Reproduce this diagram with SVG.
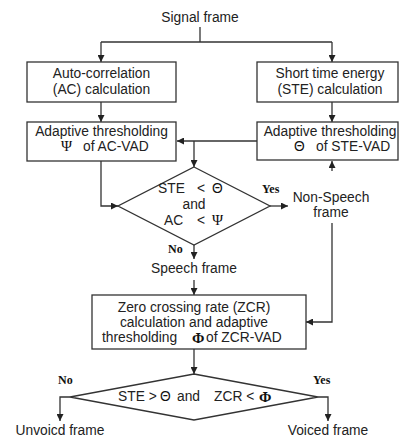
<svg xmlns="http://www.w3.org/2000/svg" width="400" height="439" viewBox="0 0 400 439">
<defs>
<marker id="ah" viewBox="0 0 10 10" refX="10" refY="5" markerWidth="7" markerHeight="7" orient="auto" markerUnits="userSpaceOnUse">
<path d="M0,0 L10,5 L0,10 z" fill="#222"/>
</marker>
<style>
.box{fill:#fff;stroke:#333;stroke-width:1.3}
.ln{fill:none;stroke:#333;stroke-width:1.3}
.t{font-family:"Liberation Sans",Arial,sans-serif;font-size:13.8px;fill:#222;text-anchor:middle}
.tl{font-family:"Liberation Sans",Arial,sans-serif;font-size:13.8px;fill:#222}
.b{font-family:"Liberation Serif","Times New Roman",serif;font-size:12px;font-weight:bold;fill:#111}
.g{font-family:"Liberation Serif","Times New Roman",serif;font-size:15px;fill:#111}
.gs{font-family:"Liberation Sans",Arial,sans-serif;font-size:13.8px;fill:#111}
</style>
</defs>
<rect width="400" height="439" fill="#fff"/>

<g id="connectors">
<polyline class="ln" points="200,27 200,42"/>
<polyline class="ln" points="101,42 332,42"/>
<line class="ln" x1="101" y1="42" x2="101" y2="62" marker-end="url(#ah)"/>
<line class="ln" x1="332" y1="42" x2="332" y2="62" marker-end="url(#ah)"/>
<line class="ln" x1="101" y1="102" x2="101" y2="122" marker-end="url(#ah)"/>
<line class="ln" x1="332" y1="102" x2="332" y2="122" marker-end="url(#ah)"/>
<line class="ln" x1="257" y1="141" x2="177" y2="141" marker-end="url(#ah)"/>
<line class="ln" x1="194" y1="141" x2="194" y2="167" marker-end="url(#ah)"/>
<polyline class="ln" points="101,161 101,206 118,206" marker-end="url(#ah)"/>
<line class="ln" x1="270" y1="206" x2="288" y2="206" marker-end="url(#ah)"/>
<line class="ln" x1="332" y1="171" x2="332" y2="161" marker-end="url(#ah)"/>
<polyline class="ln" points="332,223 332,322 306,322" marker-end="url(#ah)"/>
<line class="ln" x1="194" y1="245" x2="194" y2="259" marker-end="url(#ah)"/>
<line class="ln" x1="194" y1="280" x2="194" y2="295" marker-end="url(#ah)"/>
<line class="ln" x1="194" y1="349" x2="194" y2="374" marker-end="url(#ah)"/>
<polyline class="ln" points="70,397 60,397 60,421" marker-end="url(#ah)"/>
<polyline class="ln" points="318,397 328,397 328,421" marker-end="url(#ah)"/>
</g>

<g id="signal-frame"><text class="t" x="200" y="22">Signal frame</text></g>

<g id="ac-calc">
<rect class="box" x="27" y="62" width="149" height="40"/>
<text class="t" x="101.5" y="78">Auto-correlation</text>
<text class="t" x="101.5" y="94">(AC) calculation</text>
</g>

<g id="ste-calc">
<rect class="box" x="257" y="62" width="141" height="40"/>
<text class="t" x="330" y="78">Short time energy</text>
<text class="t" x="330" y="94">(STE) calculation</text>
</g>

<g id="ac-thresh">
<rect class="box" x="27" y="122" width="149" height="39"/>
<text class="t" x="101.5" y="136">Adaptive thresholding</text>
<text class="g" x="61" y="151">Ψ</text>
<text class="tl" x="83" y="151">of AC-VAD</text>
</g>

<g id="ste-thresh">
<rect class="box" x="257" y="122" width="141" height="38"/>
<text class="t" x="330" y="136">Adaptive thresholding</text>
<text class="gs" x="294" y="151">Θ</text>
<text class="tl" x="316" y="151">of STE-VAD</text>
</g>

<g id="decision1">
<polygon class="box" points="194,167 270,206 194,245 118,206"/>
<text class="tl" x="158" y="193">STE</text>
<text class="tl" x="197" y="193">&lt;</text>
<text class="gs" x="212" y="193">Θ</text>
<text class="t" x="194" y="209">and</text>
<text class="tl" x="164" y="225">AC</text>
<text class="tl" x="197" y="225">&lt;</text>
<text class="g" x="212" y="225">Ψ</text>
<text class="b" x="262" y="193">Yes</text>
<text class="b" x="168" y="253">No</text>
</g>

<g id="non-speech">
<text class="t" x="331" y="202">Non-Speech</text>
<text class="t" x="331" y="217">frame</text>
</g>

<g id="speech-frame"><text class="t" x="194" y="273">Speech frame</text></g>

<g id="zcr">
<rect class="box" x="92" y="295" width="214" height="54"/>
<text class="t" x="194" y="312">Zero crossing rate (ZCR)</text>
<text class="t" x="194" y="327">calculation and adaptive</text>
<text class="tl" x="102" y="342">thresholding</text>
<text class="g" x="192" y="343" font-weight="bold">Φ</text>
<text class="tl" x="206" y="342">of ZCR-VAD</text>
</g>

<g id="decision2">
<polygon class="box" points="194,374 318,397 194,420 70,397"/>
<text class="tl" x="118" y="401">STE &gt;</text>
<text class="gs" x="160" y="401">Θ</text>
<text class="tl" x="177" y="401">and</text>
<text class="tl" x="214" y="401">ZCR &lt;</text>
<text class="g" x="259" y="402" font-weight="bold">Φ</text>
<text class="b" x="58" y="384">No</text>
<text class="b" x="313" y="384">Yes</text>
</g>

<g id="unvoiced"><text class="t" x="60" y="435">Unvoicd frame</text></g>
<g id="voiced"><text class="t" x="328" y="435">Voiced frame</text></g>
</svg>
